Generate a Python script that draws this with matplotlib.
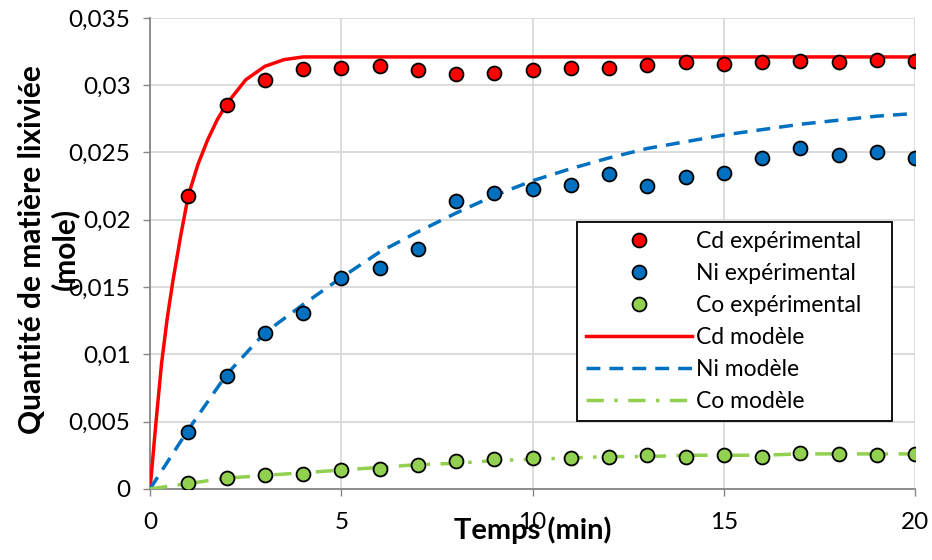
import matplotlib
matplotlib.use("Agg")
import matplotlib.pyplot as plt
from matplotlib import rcParams

rcParams.update({
    "font.family": ["Lato", "DejaVu Sans"],
    "font.size": 17,
})

# experimental points (min, mole)
t_exp = list(range(1, 21))
cd_exp = [0.0218, 0.0285, 0.0304, 0.0312, 0.0313, 0.0314, 0.0311, 0.0308, 0.0309, 0.0311,
          0.0313, 0.0313, 0.0315, 0.0317, 0.0316, 0.0317, 0.0318, 0.0317, 0.0319, 0.0318]
ni_exp = [0.0042, 0.0084, 0.0116, 0.0131, 0.0157, 0.0164, 0.0178, 0.0214, 0.0220, 0.0223,
          0.0226, 0.0234, 0.0225, 0.0232, 0.0235, 0.0246, 0.0253, 0.0248, 0.0250, 0.0246]
co_exp = [0.0004, 0.0008, 0.0010, 0.0011, 0.0014, 0.0015, 0.0018, 0.0021, 0.0022, 0.0023,
          0.0023, 0.0024, 0.0025, 0.0024, 0.0025, 0.0024, 0.0027, 0.0026, 0.0025, 0.0026]

# model curves
t_cd = [0, 0.15, 0.3, 0.45, 0.6, 0.8, 1.0, 1.25, 1.5, 1.75, 2, 2.5, 3, 3.5, 4, 5, 20]
cd_mod = [0, 0.0048, 0.0093, 0.0127, 0.0155, 0.0188, 0.0218, 0.0241, 0.0259, 0.0274,
          0.0286, 0.0304, 0.0314, 0.0319, 0.0321, 0.0321, 0.0321]
t_mod = [0, 0.5] + list(range(1, 21))
ni_mod = [0, 0.0022, 0.0044, 0.0085, 0.0116, 0.0137, 0.0157, 0.0176, 0.0191, 0.0205, 0.0218,
          0.0229, 0.0238, 0.0246, 0.0253, 0.0258, 0.0263, 0.0267, 0.0271, 0.0274, 0.0277, 0.0279]
co_mod = [0, 0.0002, 0.0004, 0.0008, 0.0010, 0.0012, 0.0014, 0.0016, 0.0018, 0.0019, 0.0021,
          0.0022, 0.0023, 0.0024, 0.0024, 0.0025, 0.0025, 0.0025, 0.0026, 0.0026, 0.0026, 0.0026]

y_ticks = [0, 0.005, 0.01, 0.015, 0.02, 0.025, 0.03, 0.035]
y_labels = ['0', '0,005', '0,01', '0,015', '0,02', '0,025', '0,03', '0,035']
x_ticks = [0, 5, 10, 15, 20]

red, blue, green = '#FF0000', '#0070C0', '#92D050'

fig = plt.figure(figsize=(9.32, 5.6), dpi=100)
ax = fig.add_axes([0.161, 0.127, 0.821, 0.841])

l1, = ax.plot(t_cd, cd_mod, color=red, lw=2.5, label='Cd modèle', zorder=3)
l2, = ax.plot(t_mod, ni_mod, color=blue, lw=2.5, dashes=(4, 2.6), label='Ni modèle', zorder=3)
l3, = ax.plot(t_mod, co_mod, color=green, lw=2.5, dashes=(5, 3, 1, 3), label='Co modèle', zorder=3)

mk = dict(ls='none', marker='o', ms=10, mec='black', mew=1.3, zorder=4)
p1, = ax.plot(t_exp, cd_exp, mfc=red, label='Cd expérimental', **mk)
p2, = ax.plot(t_exp, ni_exp, mfc=blue, label='Ni expérimental', **mk)
p3, = ax.plot(t_exp, co_exp, mfc=green, label='Co expérimental', **mk)

ax.set_xlim(0, 20)
ax.set_ylim(0, 0.035)
ax.set_xticks(x_ticks)
ax.set_yticks(y_ticks)
ax.set_yticklabels(y_labels)
ax.tick_params(colors='#868686', labelcolor='black', labelsize=17.5, length=5, width=1)
ax.tick_params(axis='x', pad=12)
ax.tick_params(axis='y', pad=9)

ax.grid(True, color='#D9D9D9', lw=1.3)
ax.set_axisbelow(True)
for s in ['top', 'right']:
    ax.spines[s].set_visible(False)
for s in ['left', 'bottom']:
    ax.spines[s].set_color('#868686')
    ax.spines[s].set_linewidth(1.3)

ax.set_xlabel('Temps (min)', fontsize=21, fontweight='bold', labelpad=-12)
fig.text(0.052, 0.555, 'Quantité de matière lixiviée\n(mole)', rotation=90,
         fontsize=21.5, fontweight='bold', ha='center', va='center',
         multialignment='center', linespacing=1.2)

leg = ax.legend(handles=[p1, p2, p3, l1, l2, l3], loc='upper left',
                bbox_to_anchor=(0.558, 0.136, 0.412, 0.431), mode='expand',
                borderaxespad=0, fontsize=16.5, frameon=True,
                fancybox=False, edgecolor='black', framealpha=1,
                handlelength=4.6, labelspacing=0.48, borderpad=0.4, handletextpad=0.2)
leg.get_frame().set_linewidth(1.3)

plt.savefig('out.png', dpi=100)
